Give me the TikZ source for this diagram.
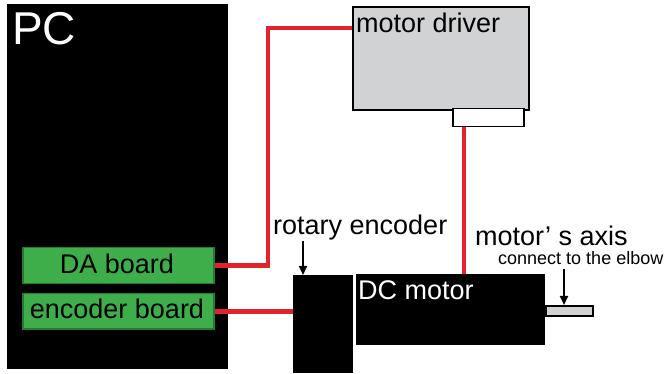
\documentclass[tikz,border=0pt]{standalone}
\usepackage{fontspec}
\setmainfont{Liberation Sans}
\usetikzlibrary{arrows.meta}
\definecolor{boardgreen}{HTML}{3DAE4A}
\definecolor{boardedge}{HTML}{257A33}
\definecolor{wirered}{HTML}{E3232B}
\definecolor{drvgray}{HTML}{D1D2D4}
\tikzset{
  blk/.style={fill=black, draw=none, anchor=north west, inner sep=0pt},
  board/.style={fill=boardgreen, draw=boardedge, line width=1.5pt, anchor=north west, inner sep=0pt, minimum width=191pt},
  wire/.style={draw=wirered, line width=4.5pt},
  bigtext/.style={font=\fontsize{27}{29}\selectfont},
  lbl/.style={anchor=base west, inner sep=0pt, bigtext},
  pointer/.style={line width=2pt, -{Triangle[length=9pt,width=8pt]}}
}
\begin{document}
\begin{tikzpicture}[x=1pt,y=-1pt]
\useasboundingbox (0,0) rectangle (667,374);
% PC
\node[blk, minimum width=221pt, minimum height=365pt] (pc) at (7,4) {};
\node[lbl, text=white, font=\fontsize{46}{48}\selectfont] (pclbl) at (12,45) {PC};
\node[board, minimum height=36pt] (da) at (22,247) {};
\node[anchor=base, inner sep=0pt, bigtext] (dalbl) at (117,273) {DA board};
\node[board, minimum height=35pt] (eb) at (22,293) {};
\node[anchor=base, inner sep=0pt, bigtext] (eblbl) at (117,318) {encoder board};
% motor driver
\node[fill=drvgray, draw=black, line width=2pt, anchor=north west, inner sep=0pt, minimum width=176pt, minimum height=103pt] (drv) at (352,6) {};
\node[lbl] (drvlbl) at (356,33) {motor driver};
\node[fill=white, draw=black, line width=1.5pt, anchor=north west, inner sep=0pt, minimum width=71pt, minimum height=18pt] (term) at (452,108) {};
% rotary encoder and motor
\node[blk, minimum width=60pt, minimum height=98pt] (rot) at (293,275) {};
\node[blk, minimum width=189pt, minimum height=71pt] (mot) at (356,274) {};
\node[lbl, text=white] (motlbl) at (358,299) {DC motor};
\node[fill=drvgray, draw=black, line width=1.5pt, anchor=north west, inner sep=0pt, minimum width=47pt, minimum height=10pt] (axis) at (545,305) {};
% wires
\coordinate (k1) at (268,28);
\coordinate (k2) at (464,120);
\draw[wire] (da.east) -| (k1) -- (k1 -| drv.west);
\draw[wire] (eb.east) -- (eb.east -| rot.west);
\draw[wire] (k2 |- term.south) -- (k2 |- mot.north);
% labels and pointers
\node[lbl] (rotlbl) at (273,235) {rotary encoder};
\node[lbl] (axlbl) at (475,246) {motor’ s axis};
\node[lbl, font=\fontsize{18}{20}\selectfont] (elbow) at (498,265) {connect to the elbow};
\coordinate (p1) at (303,241);
\coordinate (p2) at (564,269);
\draw[pointer] (p1) -- (p1 |- rot.north);
\draw[pointer] (p2) -- (p2 |- axis.north);
\end{tikzpicture}
\end{document}
